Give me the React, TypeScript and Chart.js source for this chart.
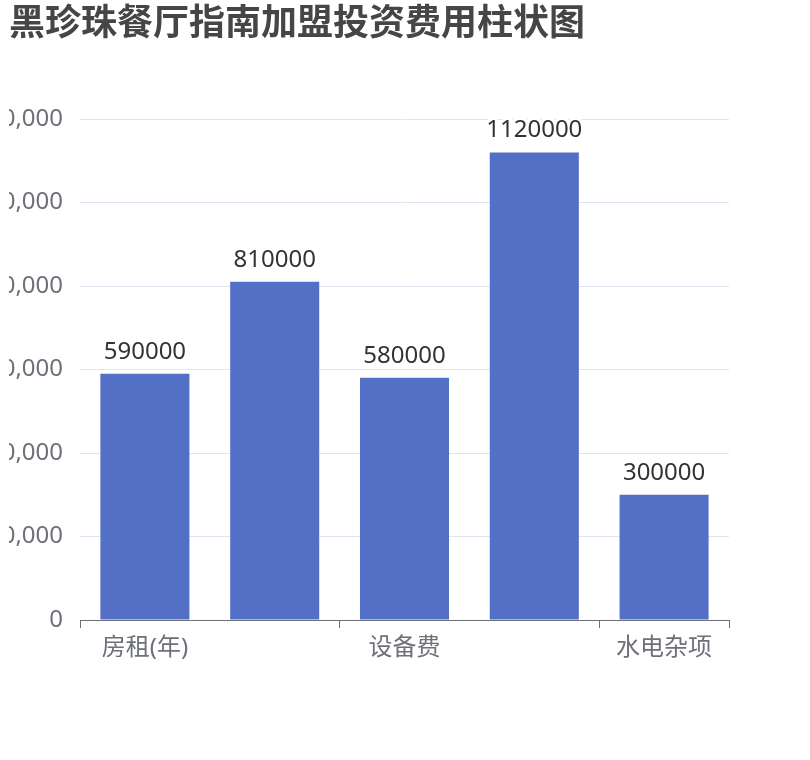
import React, { useEffect, useRef } from 'react';
import { Chart, ChartConfiguration, Plugin, registerables } from 'chart.js';

Chart.register(...registerables);

// chart data
const categories: string[] = ['房租(年)', '装修费', '设备费', '加盟费', '水电杂项'];
const costValues: number[] = [590000, 810000, 580000, 1120000, 300000];
const yTicks: number[] = [0, 200000, 400000, 600000, 800000, 1000000, 1200000];

const FONT = '"Noto Sans", "Noto Sans CJK SC", sans-serif';

// draws the value above each bar (with a white halo like echarts)
const barValueLabels: Plugin<'bar'> = {
  id: 'barValueLabels',
  afterDatasetsDraw(chart) {
    const ctx = chart.ctx;
    const meta = chart.getDatasetMeta(0);
    ctx.save();
    ctx.font = `24px ${FONT}`;
    ctx.textAlign = 'center';
    ctx.textBaseline = 'alphabetic';
    ctx.lineJoin = 'round';
    meta.data.forEach((bar, i) => {
      const text = String(costValues[i]);
      const y = bar.y - 15;
      ctx.strokeStyle = '#fff';
      ctx.lineWidth = 6;
      ctx.strokeText(text, bar.x, y);
      ctx.fillStyle = '#333';
      ctx.fillText(text, bar.x, y);
    });
    ctx.restore();
  },
};

const FranchiseCostChart: React.FC = () => {
  const chartRef = useRef<HTMLCanvasElement>(null);
  const chartInstanceRef = useRef<Chart | null>(null);

  useEffect(() => {
    if (!chartRef.current) return;
    if (chartInstanceRef.current) {
      chartInstanceRef.current.destroy();
    }
    const ctx = chartRef.current.getContext('2d');
    if (!ctx) return;

    const config: ChartConfiguration<'bar'> = {
      type: 'bar',
      data: {
        labels: categories,
        datasets: [
          {
            label: '费用',
            data: costValues,
            backgroundColor: '#5470C6',
            borderWidth: 0,
            barPercentage: 0.686,
            categoryPercentage: 1,
          },
        ],
      },
      options: {
        responsive: true,
        maintainAspectRatio: false,
        animation: false,
        layout: {
          padding: { top: 0, left: 9, right: 81, bottom: 90 },
        },
        scales: {
          x: {
            offset: true,
            afterFit: (scale) => {
              scale.height = 50;
            },
            grid: {
              offset: true,
              drawOnChartArea: false,
              drawTicks: true,
              tickLength: 8,
              color: (c) => (c.index !== undefined && c.index % 2 === 1 ? 'rgba(0,0,0,0)' : '#6E7079'),
            },
            border: { display: true, color: '#6E7079', width: 1 },
            ticks: {
              autoSkip: false,
              maxRotation: 0,
              padding: 6,
              color: '#6E7079',
              font: { family: FONT, size: 24 },
              callback: (_v, i) => (i % 2 === 0 ? categories[i] : ''),
            },
          },
          y: {
            min: yTicks[0],
            max: yTicks[yTicks.length - 1],
            afterFit: (scale) => {
              scale.width = 71;
            },
            afterBuildTicks: (scale) => {
              scale.ticks = yTicks.map((v) => ({ value: v }));
            },
            grid: {
              color: '#E0E6F1',
              lineWidth: 1,
              drawTicks: false,
            },
            border: { display: false },
            ticks: {
              padding: 17,
              color: '#6E7079',
              font: { family: FONT, size: 24 },
              callback: (v) => Number(v).toLocaleString('en-US'),
            },
          },
        },
        plugins: {
          legend: { display: false },
          tooltip: { enabled: false },
          title: {
            display: true,
            text: '黑珍珠餐厅指南加盟投资费用柱状图',
            align: 'start',
            color: '#464646',
            font: { family: FONT, size: 36, weight: 'bold', lineHeight: 1.2 },
            padding: { top: 3, bottom: 72.8 },
          },
        },
      },
      plugins: [barValueLabels],
    };

    chartInstanceRef.current = new Chart(ctx, config);

    return () => {
      if (chartInstanceRef.current) {
        chartInstanceRef.current.destroy();
        chartInstanceRef.current = null;
      }
    };
  }, []);

  return (
    <div style={{ position: 'absolute', left: 0, top: 0, width: 810, height: 760 }}>
      <canvas ref={chartRef}></canvas>
    </div>
  );
};

export default function App() {
  return <FranchiseCostChart />;
}
